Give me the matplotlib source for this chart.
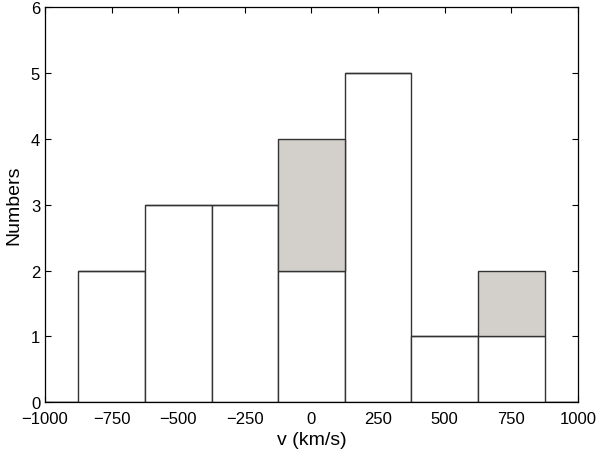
import matplotlib

matplotlib.use("Agg")
import matplotlib.pyplot as plt
import numpy as np

plt.rcParams["font.family"] = ["Liberation Sans", "DejaVu Sans"]

# bin centres (km/s) and counts
centers = [-1000, -750, -500, -250, 0, 250, 500, 750, 1000]
counts_white = [0, 2, 3, 3, 2, 5, 1, 1, 0]
counts_gray = [0, 0, 0, 0, 2, 0, 0, 1, 0]
bin_width = 250

xticks = [-1000, -750, -500, -250, 0, 250, 500, 750, 1000]
yticks = [0, 1, 2, 3, 4, 5, 6]

fig = plt.figure(figsize=(6.0, 4.52), dpi=100)
ax = fig.add_axes([0.075, 0.108, 0.888, 0.874])

edge = "#333333"
ax.bar(centers, counts_white, width=bin_width, color="white",
       edgecolor=edge, linewidth=1.0, zorder=2)
ax.bar(centers, counts_gray, width=bin_width, bottom=counts_white,
       color="#d3d0cb", edgecolor=edge, linewidth=1.0, zorder=2)

ax.set_xlim(-1000, 1000)
ax.set_ylim(0, 6)
ax.set_xticks(xticks)
ax.set_xticklabels([f"{t}".replace("-", "\u2212") for t in xticks])
ax.set_yticks(yticks)
ax.tick_params(direction="in", top=True, right=True, length=4,
               labelsize=12, width=0.8)
ax.tick_params(axis="x", pad=6)
for s in ax.spines.values():
    s.set_linewidth(0.9)
    s.set_zorder(3)

ax.set_xlabel("v (km/s)", fontsize=14, labelpad=4)
ax.set_ylabel("Numbers", fontsize=14, labelpad=6)

fig.savefig("out.png", dpi=100)
